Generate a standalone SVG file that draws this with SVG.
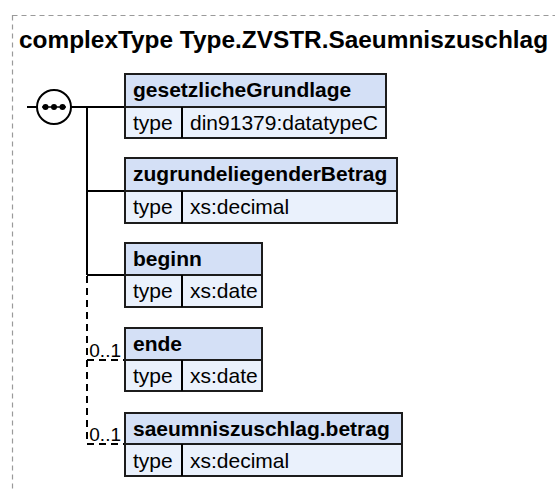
<svg xmlns="http://www.w3.org/2000/svg" width="555" height="492" viewBox="0 0 555 492">
<style>
.frame{fill:none;stroke:#9a9a9a;stroke-width:1.2;stroke-dasharray:5,4}
.title{font-family:"Liberation Sans",Arial,sans-serif;font-weight:bold;font-size:24.4px;fill:#000}
.hdr{fill:#d4e0f6;stroke:#1c1c1c;stroke-width:2}
.row{fill:#eaf1fc;stroke:#1c1c1c;stroke-width:2}
.name{font-family:"Liberation Sans",Arial,sans-serif;font-weight:bold;font-size:21px;fill:#000}
.txt{font-family:"Liberation Sans",Arial,sans-serif;font-size:21px;fill:#000}
.occ{font-family:"Liberation Sans",Arial,sans-serif;font-size:19px;fill:#000;text-anchor:end}
.ln{fill:none;stroke:#000;stroke-width:2}
.dl{fill:none;stroke:#000;stroke-width:2;stroke-dasharray:7,5}
</style>
<rect class="frame" x="12.5" y="15.5" width="560" height="500"/>
<text class="title" x="19" y="48">complexType Type.ZVSTR.Saeumniszuschlag</text>

<g id="connectors">
  <line class="ln" x1="27" y1="107" x2="37" y2="107"/>
  <line class="ln" x1="71" y1="107" x2="125" y2="107"/>
  <line class="ln" x1="87" y1="107" x2="87" y2="275"/>
  <line class="ln" x1="87" y1="191" x2="125" y2="191"/>
  <line class="ln" x1="87" y1="275" x2="125" y2="275"/>
  <path class="dl" d="M87 276 V360 H125"/>
  <path class="dl" d="M87 360 V444 H125"/>
  <text class="occ" x="121" y="357">0..1</text>
  <text class="occ" x="121" y="441">0..1</text>
</g>

<g id="sequence">
  <circle cx="54" cy="107" r="17" fill="#fff" stroke="#000" stroke-width="2"/>
  <line x1="42" y1="107" x2="66" y2="107" stroke="#000" stroke-width="1.5"/>
  <circle cx="45.5" cy="107" r="3" fill="#000"/>
  <circle cx="54" cy="107" r="3" fill="#000"/>
  <circle cx="62.5" cy="107" r="3" fill="#000"/>
</g>

<g id="gesetzlicheGrundlage">
  <rect class="hdr" x="125" y="74" width="261" height="33"/>
  <rect class="row" x="125" y="107" width="261" height="31"/>
  <line class="ln" x1="182" y1="107" x2="182" y2="138"/>
  <text class="name" x="133" y="97">gesetzlicheGrundlage</text>
  <text class="txt" x="133" y="130">type</text>
  <text class="txt" x="190" y="130">din91379:datatypeC</text>
</g>

<g id="zugrundeliegenderBetrag">
  <rect class="hdr" x="125" y="158" width="272" height="33"/>
  <rect class="row" x="125" y="191" width="272" height="32"/>
  <line class="ln" x1="182" y1="191" x2="182" y2="223"/>
  <text class="name" x="133" y="181">zugrundeliegenderBetrag</text>
  <text class="txt" x="133" y="214">type</text>
  <text class="txt" x="190" y="214">xs:decimal</text>
</g>

<g id="beginn">
  <rect class="hdr" x="125" y="243" width="137" height="32"/>
  <rect class="row" x="125" y="275" width="137" height="32"/>
  <line class="ln" x1="182" y1="275" x2="182" y2="307"/>
  <text class="name" x="133" y="266">beginn</text>
  <text class="txt" x="133" y="298">type</text>
  <text class="txt" x="190" y="298">xs:date</text>
</g>

<g id="ende">
  <rect class="hdr" x="125" y="328" width="137" height="32"/>
  <rect class="row" x="125" y="360" width="137" height="31"/>
  <line class="ln" x1="182" y1="360" x2="182" y2="391"/>
  <text class="name" x="133" y="351">ende</text>
  <text class="txt" x="133" y="383">type</text>
  <text class="txt" x="190" y="383">xs:date</text>
</g>

<g id="saeumniszuschlag.betrag">
  <rect class="hdr" x="125" y="413" width="277" height="31"/>
  <rect class="row" x="125" y="444" width="277" height="32"/>
  <line class="ln" x1="182" y1="444" x2="182" y2="476"/>
  <text class="name" x="133" y="436">saeumniszuschlag.betrag</text>
  <text class="txt" x="133" y="468">type</text>
  <text class="txt" x="190" y="468">xs:decimal</text>
</g>
</svg>
